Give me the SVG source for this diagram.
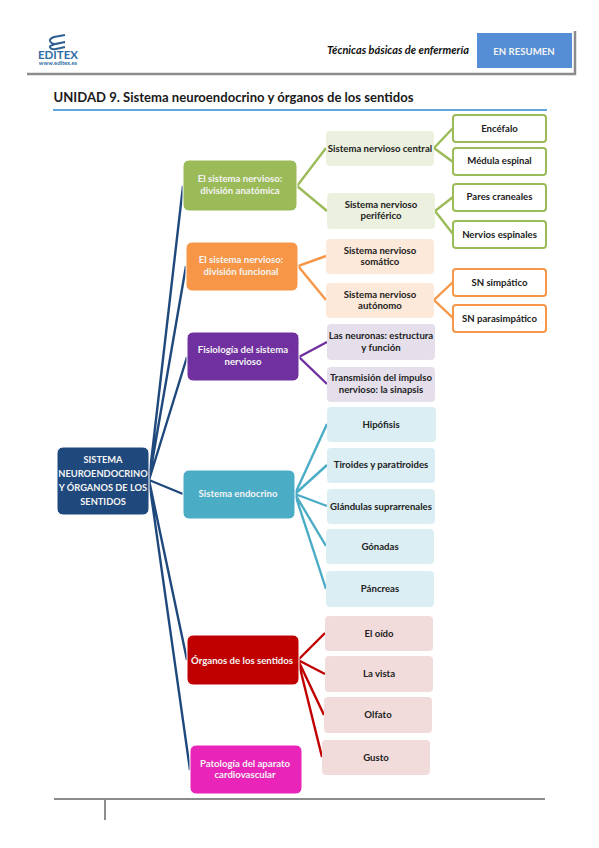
<svg xmlns="http://www.w3.org/2000/svg" width="599" height="848" viewBox="0 0 599 848">
<style>
text{font-family:"Lato","Carlito","Open Sans",sans-serif;font-weight:700;font-size:9.6px;text-anchor:middle;fill:#222}
.w{fill:#f4f4f4}
.r{font-size:9.3px}
.n{stroke:#fff;stroke-width:1}
.o{fill:#fff;stroke-width:2}
.c{fill:none;stroke-width:2.4}
.c0{stroke:#1f497d}.c1{stroke:#9bbb59}.c2{stroke:#f79646}.c3{stroke:#7030a0}.c4{stroke:#4bacc6}.c5{stroke:#c00000}
.f1{fill:#ebf1de}.f2{fill:#fde9d9}.f3{fill:#e5dfec}.f4{fill:#daeef3}.f5{fill:#f2dcdb}
</style>
<g id="header">
<path d="M27 74H575V31" fill="none" stroke="#8c8c8c" stroke-width="2.5"/>
<rect x="477" y="33" width="95" height="35" fill="#558ed5"/>
<text x="524" y="54.500" class="w">EN RESUMEN</text>
<text x="398" y="54" style="font-size:11px;font-style:italic;fill:#111">Técnicas básicas de enfermería</text>
<g id="logo">
<path d="M65 35L54 37Q49 39 50 41Q51 44 56 44L65 42M65 42L55 44Q49 46 50 47Q51 50 56 49L65 47" fill="none" stroke="#2e5f8f" stroke-width="2"/>
<text x="58" y="58.500" style="font-size:11.500px;fill:#2e6da4">EDITEX</text>
<text x="58" y="65" style="font-size:5.800px;fill:#2e6da4">www.editex.es</text>
</g>
<text x="233.500" y="102" style="font-size:13.100px;fill:#1a1a1a">UNIDAD 9. Sistema neuroendocrino y órganos de los sentidos</text>
<path d="M53 110H547" stroke="#2e8bd0" stroke-width="1.500"/>
</g>
<g id="connectors">
<path class="c c0" d="M149 480L183 186M149 480L186 266M149 480L187 357M149 480L183 494M149 480L187 660M149 480L190 770"/>
<path class="c c1" d="M326 148L297 186L327 211M453 128L434 148L453 162M453 197L435 211L453 234"/>
<path class="c c2" d="M326 256L298 266L326 300M453 282L434 300L453 318"/>
<path class="c c3" d="M327 342L299 357L327 384"/>
<path class="c c4" d="M295 494L327 424M295 494L327 465M295 494L327 506M295 494L326 546M295 494L326 589"/>
<path class="c c5" d="M298 660L325 633M298 660L325 674M298 660L324 715M298 660L322 757"/>
</g>
<g id="root"><rect class="n" x="57" y="447" width="92" height="68" rx="6" fill="#1f497d"/><text class="w r" x="103" y="463">SISTEMA</text><text class="w r" x="103" y="477">NEUROENDOCRINO</text><text class="w r" x="103" y="491">Y ÓRGANOS DE LOS</text><text class="w r" x="103" y="505">SENTIDOS</text></g>
<g id="anatomica"><rect class="n" x="183" y="160" width="114" height="51" rx="6" fill="#9bbb59"/><text class="w" x="240" y="182">El sistema nervioso:</text><text class="w" x="240" y="194">división anatómica</text></g>
<g id="funcional"><rect class="n" x="186" y="242" width="112" height="49" rx="6" fill="#f79646"/><text class="w" x="241" y="263">El sistema nervioso:</text><text class="w" x="241" y="275">división funcional</text></g>
<g id="fisiologia"><rect class="n" x="187" y="332" width="112" height="49" rx="6" fill="#7030a0"/><text class="w" x="243" y="353">Fisiología del sistema</text><text class="w" x="243" y="365">nervioso</text></g>
<g id="endocrino"><rect class="n" x="183" y="470" width="112" height="49" rx="6" fill="#4bacc6"/><text class="w" x="238" y="497">Sistema endocrino</text></g>
<g id="organos"><rect class="n" x="187" y="635" width="112" height="50" rx="6" fill="#c00000"/><text class="w" x="242" y="664">Órganos de los sentidos</text></g>
<g id="patologia"><rect class="n" x="190" y="745" width="112" height="49" rx="6" fill="#e925b9"/><text class="w" x="245" y="767">Patología del aparato</text><text class="w" x="245" y="778">cardiovascular</text></g>
<g id="snc"><rect class="f1" x="326" y="131" width="108" height="35" rx="4"/><text x="380" y="152">Sistema nervioso central</text></g>
<g id="snp"><rect class="f1" x="327" y="193" width="108" height="36" rx="4"/><text x="381" y="208">Sistema nervioso</text><text x="381" y="219">periférico</text></g>
<g id="encefalo"><rect class="o c1" x="453" y="115" width="93" height="27" rx="3"/><text x="499.500" y="132">Encéfalo</text></g>
<g id="medula"><rect class="o c1" x="453" y="148" width="93" height="27" rx="3"/><text x="499.500" y="164">Médula espinal</text></g>
<g id="pares"><rect class="o c1" x="453" y="184" width="93" height="27" rx="3"/><text x="499.500" y="200">Pares craneales</text></g>
<g id="espinales"><rect class="o c1" x="453" y="221" width="93" height="27" rx="3"/><text x="499.500" y="238">Nervios espinales</text></g>
<g id="somatico"><rect class="f2" x="326" y="239" width="108" height="35" rx="4"/><text x="380" y="254">Sistema nervioso</text><text x="380" y="265">somático</text></g>
<g id="autonomo"><rect class="f2" x="326" y="283" width="108" height="35" rx="4"/><text x="380" y="298">Sistema nervioso</text><text x="380" y="309">autónomo</text></g>
<g id="simpatico"><rect class="o c2" x="453" y="269" width="93" height="27" rx="3"/><text x="499.500" y="286">SN simpático</text></g>
<g id="parasimpatico"><rect class="o c2" x="453" y="305" width="93" height="27" rx="3"/><text x="499.500" y="322">SN parasimpático</text></g>
<g id="neuronas"><rect class="f3" x="327" y="324" width="108" height="36" rx="4"/><text x="381" y="339">Las neuronas: estructura</text><text x="381" y="351">y función</text></g>
<g id="transmision"><rect class="f3" x="327" y="367" width="108" height="35" rx="4"/><text x="381" y="381">Transmisión del impulso</text><text x="381" y="393">nervioso: la sinapsis</text></g>
<g id="hipofisis"><rect class="f4" x="327" y="407" width="109" height="35" rx="4"/><text x="381" y="428">Hipófisis</text></g>
<g id="tiroides"><rect class="f4" x="327" y="448" width="108" height="35" rx="4"/><text x="381" y="468">Tiroides y paratiroides</text></g>
<g id="glandulas"><rect class="f4" x="327" y="489" width="108" height="35" rx="4"/><text x="381" y="510">Glándulas suprarrenales</text></g>
<g id="gonadas"><rect class="f4" x="326" y="529" width="108" height="35" rx="4"/><text x="380" y="550">Gónadas</text></g>
<g id="pancreas"><rect class="f4" x="326" y="571" width="108" height="36" rx="4"/><text x="380" y="592">Páncreas</text></g>
<g id="oido"><rect class="f5" x="325" y="616" width="108" height="35" rx="4"/><text x="379" y="637">El oído</text></g>
<g id="vista"><rect class="f5" x="325" y="656" width="108" height="36" rx="4"/><text x="379" y="677">La vista</text></g>
<g id="olfato"><rect class="f5" x="324" y="697" width="108" height="36" rx="4"/><text x="378" y="718">Olfato</text></g>
<g id="gusto"><rect class="f5" x="322" y="740" width="108" height="35" rx="4"/><text x="376" y="761">Gusto</text></g>
<path id="footer" d="M54 799H545M105 799V820" fill="none" stroke="#8c8c8c" stroke-width="2"/>
</svg>
